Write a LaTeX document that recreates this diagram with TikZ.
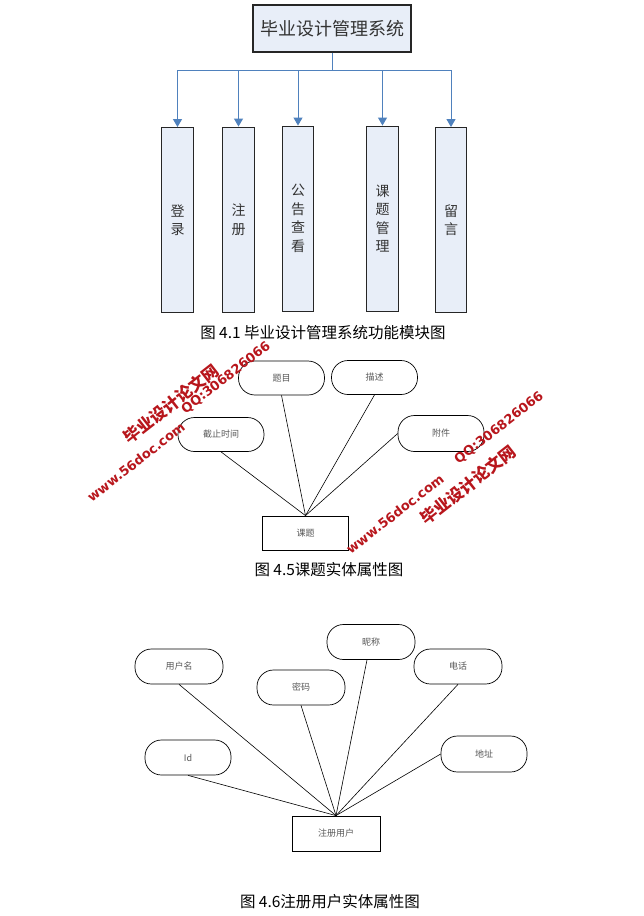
\documentclass[tikz,border=0pt]{standalone}
\usepackage{fontspec}
\setmainfont{Noto Sans CJK SC}
\newfontfamily\latinwm{DejaVu Sans}
\usetikzlibrary{arrows.meta}
\definecolor{boxfill}{HTML}{E8EEF8}
\definecolor{arrowblue}{HTML}{4F81BD}
\definecolor{wmred}{HTML}{B8161C}
\tikzset{
  titlebox/.style={draw=black!85, line width=1.1pt, fill=boxfill, minimum width=158, minimum height=47, inner sep=0, font=\fontsize{18}{20}\selectfont, text=black!80},
  modbox/.style={draw=black!85, line width=0.9pt, fill=boxfill, minimum width=31.5, minimum height=185, inner sep=0, align=center, font=\fontsize{14}{18.5}\selectfont, text=black!80},
  feed/.style={draw=arrowblue, line width=1pt},
  feedarrow/.style={feed, -{Triangle[width=9pt,length=8pt]}},
  attr/.style={draw=black, line width=0.7pt, rounded corners=16.5, minimum width=86, minimum height=34, inner sep=0, font=\fontsize{9}{11}\selectfont, text=black!65},
  entity/.style={draw=black, line width=0.8pt, minimum width=86, minimum height=34, inner sep=0, font=\fontsize{9}{11}\selectfont, text=black!65},
  link/.style={draw=black, line width=0.6pt},
  caption/.style={font=\fontsize{15.5}{18}\selectfont, text=black},
  wmcn/.style={text=wmred, rotate=38, font=\fontsize{16.5}{18}\selectfont\bfseries},
  wmlat/.style={text=wmred, rotate=38, font=\latinwm\fontsize{13}{15}\selectfont\bfseries},
}
\begin{document}
\begin{tikzpicture}[x=1pt,y=-1pt]
\useasboundingbox[fill=white] (0,0) rectangle (644,916);

% ---------- Figure 4.1 ----------
\node[titlebox] (sys) at (332,28.5) {毕业设计管理系统};
\node[modbox] (m1) at (177.5,220) {登\\录};
\node[modbox] (m2) at (238.5,219.5) {注\\册};
\node[modbox] (m3) at (298,218.5) {公\\告\\查\\看};
\node[modbox] (m4) at (382.5,218.5) {课\\题\\管\\理};
\node[modbox] (m5) at (451,220) {留\\言};
\coordinate (bus) at (332,70);
\draw[feed] (sys.south) -- (bus);
\draw[feed] (m1.north |- bus) -- (m5.north |- bus);
\foreach \m in {m1,m2,m3,m4,m5}{
  \draw[feedarrow] (\m.north |- bus) -- (\m.north);
}
\node[caption] (cap1) at (323,333) {图 4.1 毕业设计管理系统功能模块图};

% ---------- Figure 4.5 ----------
\node[attr] (tm) at (281.5,378) {题目};
\node[attr] (ms) at (374.5,377.5) {描述};
\node[attr] (jz) at (221,434.5) {截止时间};
\node[attr, minimum height=36] (fj) at (441,433.5) {附件};
\node[entity] (kt) at (305.5,533) {课题};
\draw[link] (tm.south) -- (kt.north);
\draw[link] (ms.south) -- (kt.north);
\draw[link] (jz.south) -- (kt.north);
\draw[link] (fj.west) -- (kt.north);
\node[caption] (cap2) at (329,570) {图 4.5课题实体属性图};

% ---------- Figure 4.6 ----------
\node[attr, minimum width=88, minimum height=35] (yhm) at (179,666.5) {用户名};
\node[attr, minimum width=88, minimum height=35] (mm) at (301,687.5) {密码};
\node[attr, minimum width=88, minimum height=35] (nc) at (371,642) {昵称};
\node[attr, minimum width=88, minimum height=35] (dh) at (458,666.5) {电话};
\node[attr, minimum height=36] (dz) at (484,754) {地址};
\node[attr, minimum height=35] (id) at (188,757.5) {Id};
\node[entity, minimum width=88, minimum height=35] (zc) at (336,833.5) {注册用户};
\draw[link] (yhm.south) -- (zc.north);
\draw[link] (mm.south) -- (zc.north);
\draw[link] ([xshift=-4]nc.south) -- (zc.north);
\draw[link] (dh.south) -- (zc.north);
\draw[link] (dz.west) -- (zc.north);
\draw[link] (id.south) -- (zc.north);
\node[caption] (cap3) at (330,902) {图 4.6注册用户实体属性图};

% ---------- watermarks ----------
\node[wmcn] (w1) at (171,404) {毕业设计论文网};
\node[wmlat] (w2) at (136,462) {www.56doc.com};
\node[wmlat] (w3) at (226,378) {QQ:306826066};
\node[wmlat] (w4) at (499,428) {QQ:306826066};
\node[wmcn] (w5) at (468,485) {毕业设计论文网};
\node[wmlat] (w6) at (395,514) {www.56doc.com};
\end{tikzpicture}
\end{document}
